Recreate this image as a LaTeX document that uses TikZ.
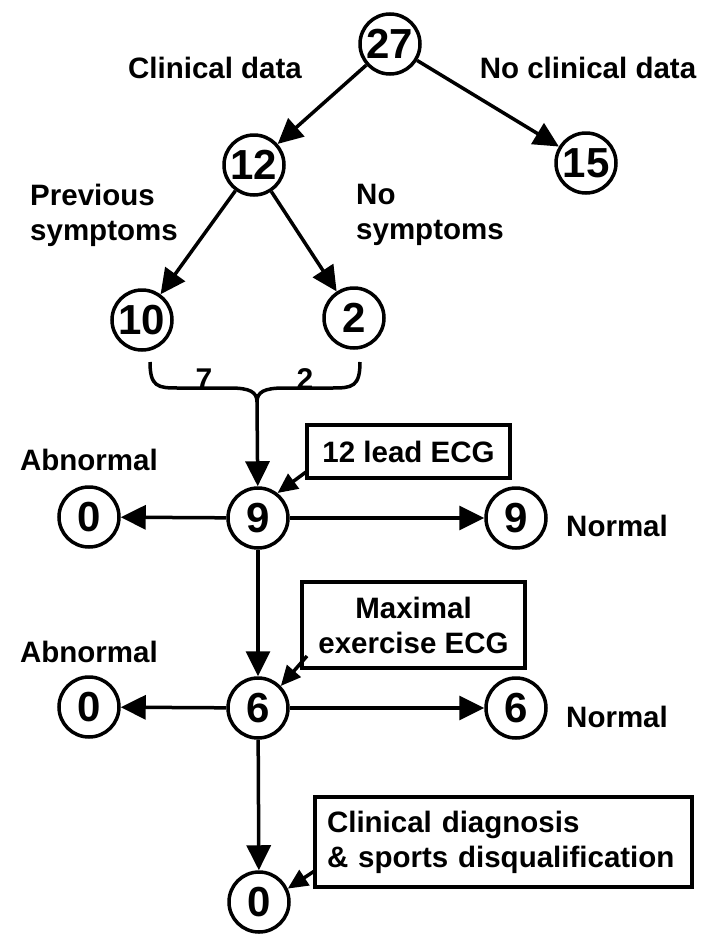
\documentclass[tikz,border=0pt]{standalone}
\usepackage{fontspec}
\setmainfont{Liberation Sans}
\usetikzlibrary{arrows.meta}
\begin{document}
\begin{tikzpicture}[x=1pt,y=-1pt,
  num/.style={circle,draw,line width=3.5pt,minimum size=60pt,inner sep=0pt,font=\bfseries\fontsize{42}{42}\selectfont},
  lbl/.style={font=\bfseries\fontsize{29.5}{35}\selectfont,inner sep=0pt},
  bx/.style={draw,line width=3.5pt,inner sep=0pt,font=\bfseries\fontsize{29.5}{35}\selectfont},
  ln/.style={line width=3.5pt},
  tally/.style={font=\bfseries\fontsize{30}{30}\selectfont,inner sep=0pt,anchor=base},
  arr/.style={line width=3.5pt,-{Triangle[length=25pt,width=24pt]}},
  sarr/.style={line width=3.5pt,-{Triangle[length=20pt,width=18pt]}}]
\useasboundingbox (0,0) rectangle (715,937);
% tree
\node[num] (n27) at (390,44) {27};
\node[num] (n12) at (254,165) {12};
\node[num] (n15) at (586,163) {15};
\node[num] (n10) at (142,320) {10};
\node[num] (n2) at (354,318) {2};
\node[lbl,anchor=base] (lcd) at (215,78) {Clinical data};
\node[lbl,anchor=base] (lncd) at (588,78) {No clinical data};
\node[lbl,align=left,anchor=north west] (lps) at (30,184) {Previous\\symptoms};
\node[lbl,align=left,anchor=north west] (lns) at (356,184) {No\\symptoms};
\draw[arr] (n27) -- (n12);
\draw[arr] (n27) -- (n15);
\draw[arr] (n12) -- (n10);
\draw[arr] (n12) -- (n2);
% bracket
\coordinate (bl) at (150,362);
\coordinate (br) at (360,362);
\coordinate (bm) at (257,402);
\draw[ln] (bl) .. controls (150,387) and (158,388) .. (178,388) -- (230,388) .. controls (250,388) and (257,392) .. (bm);
\draw[ln] (br) .. controls (360,387) and (352,388) .. (332,388) -- (284,388) .. controls (264,388) and (257,392) .. (bm);
\node[tally] (l7) at (204,389) {7};
\node[tally] (l2) at (305,389) {2};
% level 9
\node[num] (n9) at (258,518) {9};
\node[num] (a0) at (89,517) {0};
\node[num] (r9) at (516,518) {9};
\draw[arr] (bm) -- (n9);
\draw[arr] (n9) -- (a0);
\draw[arr] (n9) -- (r9);
\node[lbl,anchor=base east] (ab1) at (158,470) {Abnormal};
\node[lbl,anchor=base west] (no1) at (566,536) {Normal};
\node[bx,minimum width=203pt,minimum height=53pt] (ecg) at (408.5,451.5) {12 lead ECG};
\coordinate (e1) at (306,472);
\draw[sarr] (e1) -- (n9.52);
% level 6
\node[num] (n6) at (258,708) {6};
\node[num] (a6) at (89,707) {0};
\node[num] (r6) at (516,708) {6};
\draw[arr] (n9) -- (n6);
\draw[arr] (n6) -- (a6);
\draw[arr] (n6) -- (r6);
\node[lbl,anchor=base east] (ab2) at (158,662) {Abnormal};
\node[lbl,anchor=base west] (no2) at (566,727) {Normal};
\node[bx,minimum width=223pt,minimum height=86pt,align=center] (mx) at (413.5,625) {Maximal\\exercise ECG};
\coordinate (e2) at (307,656);
\draw[sarr] (e2) -- (n6.44);
% bottom
\node[num] (b0) at (259,902) {0};
\draw[arr] (n6) -- (b0);
\node[bx,minimum width=377pt,minimum height=90pt,align=left,text width=353pt,inner xsep=12pt] (cd) at (503.5,842) {Clinical diagnosis\\\& sports disqualification};
\coordinate (e3) at (316,870);
\draw[sarr] (e3) -- (b0.25);
\end{tikzpicture}
\end{document}
